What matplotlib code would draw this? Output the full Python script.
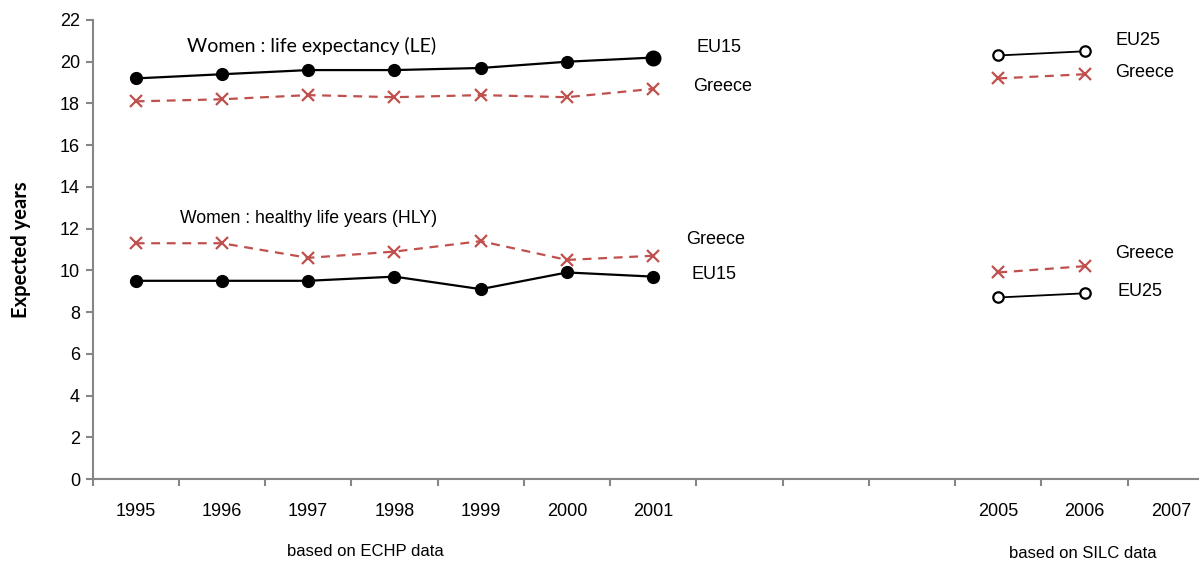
import matplotlib
matplotlib.use("Agg")
import matplotlib.pyplot as plt
from matplotlib import font_manager
from matplotlib.ticker import FixedLocator

names = {f.name for f in font_manager.fontManager.ttflist}
NARROW = "Liberation Sans Narrow" if "Liberation Sans Narrow" in names else "Liberation Sans"

# categories on the x axis (2002-2004 left empty)
years = ["1995", "1996", "1997", "1998", "1999", "2000", "2001",
         "", "", "", "2005", "2006", "2007"]
echp_idx = [0, 1, 2, 3, 4, 5, 6]
silc_idx = [10, 11]

# ECHP based series (EU15 and Greece)
le_eu15 = [19.2, 19.4, 19.6, 19.6, 19.7, 20.0, 20.2]
le_greece = [18.1, 18.2, 18.4, 18.3, 18.4, 18.3, 18.7]
hly_greece = [11.3, 11.3, 10.6, 10.9, 11.4, 10.5, 10.7]
hly_eu15 = [9.5, 9.5, 9.5, 9.7, 9.1, 9.9, 9.7]

# SILC based series (EU25 and Greece)
le_eu25_silc = [20.3, 20.5]
le_greece_silc = [19.2, 19.4]
hly_greece_silc = [9.9, 10.2]
hly_eu25_silc = [8.7, 8.9]

RED = "#C0504D"
DASH = (0, (4, 3))
W, H = 1199, 565
fig = plt.figure(figsize=(W / 100, H / 100), dpi=100)
x0, x1 = 92.5, 1214.0
y_top, y_bot = 20.0, 479.0
ax = fig.add_axes([x0 / W, 1 - y_bot / H, (x1 - x0) / W, (y_bot - y_top) / H])

# black solid lines with filled dots, red dashed with crosses
ax.plot(echp_idx, le_eu15, color="black", lw=1.6, marker="o", ms=8.5, clip_on=False)
ax.plot(echp_idx[-1:], le_eu15[-1:], ls="none", color="black", marker="o", ms=10.5)
ax.plot(echp_idx, le_greece, color=RED, lw=1.6, ls=DASH, marker="x", ms=8, mew=1.6, clip_on=False)
ax.plot(echp_idx, hly_greece, color=RED, lw=1.6, ls=DASH, marker="x", ms=8, mew=1.6, clip_on=False)
ax.plot(echp_idx, hly_eu15, color="black", lw=1.6, marker="o", ms=8.5, clip_on=False)

ax.plot(silc_idx, le_eu25_silc, color="black", lw=1.3, marker="o", ms=7.5, mfc="white", mew=1.6)
ax.plot(silc_idx, le_greece_silc, color=RED, lw=1.6, ls=DASH, marker="x", ms=8, mew=1.6)
ax.plot(silc_idx, hly_greece_silc, color=RED, lw=1.6, ls=DASH, marker="x", ms=8, mew=1.6)
ax.plot(silc_idx, hly_eu25_silc, color="black", lw=1.3, marker="o", ms=7.5, mfc="white", mew=1.6)

ax.set_xlim(-0.5, len(years) - 0.5)
ax.set_ylim(0, 22)
ax.set_yticks(range(0, 23, 2))
ax.set_xticks(range(len(years)))
ax.set_xticklabels(years)
ax.xaxis.set_minor_locator(FixedLocator([i - 0.5 for i in range(len(years) + 1)]))
ax.tick_params(axis="x", which="major", length=0, pad=17)
ax.tick_params(axis="x", which="minor", length=5, color="#868686", width=1.5)
ax.tick_params(axis="y", length=5, color="#868686", width=1.5, pad=4)
for lab in ax.get_xticklabels() + ax.get_yticklabels():
    lab.set_fontfamily(NARROW)
    lab.set_fontsize(13)

for s in ["top", "right"]:
    ax.spines[s].set_visible(False)
for s in ["left", "bottom"]:
    ax.spines[s].set_color("#868686")
    ax.spines[s].set_linewidth(1.5)

ax.set_ylabel("Expected years", fontfamily="Lato", fontweight="bold", fontsize=14.5, va="center")
ax.yaxis.set_label_coords((21 - x0) / (x1 - x0), 0.5)

# annotations
ax.text(2.04, 20.76, "Women : life expectancy (LE)", fontfamily="Lato", fontsize=14, ha="center", va="center")
ax.text(2.0, 12.5, "Women : healthy life years (HLY)", fontfamily=NARROW, fontsize=12.7, ha="center", va="center")
series_labels = [
    (6.5, 20.7, "EU15"), (6.46, 18.8, "Greece"),
    (6.38, 11.5, "Greece"), (6.44, 9.8, "EU15"),
    (11.36, 21.0, "EU25"), (11.35, 19.5, "Greece"),
    (11.35, 10.8, "Greece"), (11.38, 9.0, "EU25"),
]
for x, y, t in series_labels:
    ax.text(x, y, t, fontfamily=NARROW, fontsize=13, ha="left", va="center")

fig.text(365 / W, 1 - 551 / H, "based on ECHP data", fontfamily=NARROW, fontsize=12, ha="center", va="center")
fig.text(1083 / W, 1 - 553 / H, "based on SILC data", fontfamily=NARROW, fontsize=12, ha="center", va="center")

fig.savefig("out.png", dpi=100)
